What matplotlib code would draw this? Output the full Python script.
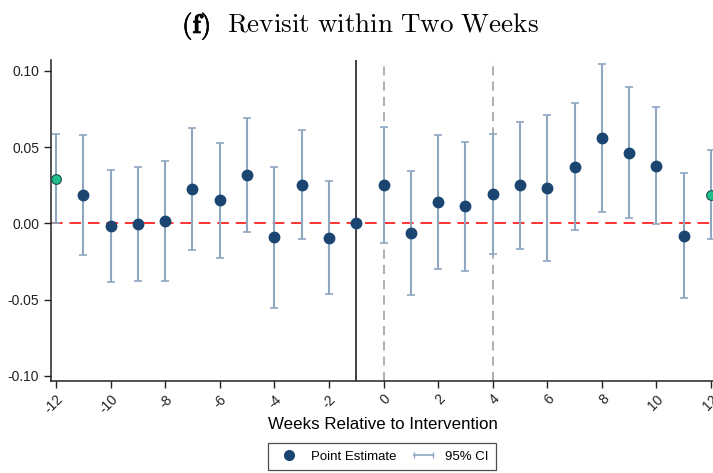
import numpy as np
import matplotlib
matplotlib.use("Agg")
import matplotlib.pyplot as plt
import matplotlib.patheffects as pe
from matplotlib.lines import Line2D
from matplotlib.legend_handler import HandlerLine2D

plt.rcParams["font.family"] = ["Liberation Sans", "DejaVu Sans"]
plt.rcParams["axes.unicode_minus"] = False
plt.rcParams["mathtext.fontset"] = "cm"

weeks = list(range(-12, 13))
estimate = [0.0292, 0.0184, -0.0015, -0.0002, 0.0016, 0.0224, 0.0151, 0.0316,
            -0.0090, 0.0255, -0.0092, 0.0, 0.0255, -0.0061, 0.0143, 0.0112,
            0.0191, 0.0250, 0.0235, 0.0373, 0.0559, 0.0463, 0.0378, -0.0079, 0.0187]
ci_upper = [0.0584, 0.0579, 0.0351, 0.0371, 0.0408, 0.0623, 0.0526, 0.0691,
            0.0373, 0.0612, 0.0276, 0.0, 0.0634, 0.0347, 0.0579, 0.0535,
            0.0584, 0.0667, 0.0713, 0.0790, 0.1044, 0.0895, 0.0763, 0.0329, 0.0483]
ci_lower = [0.0000, -0.0208, -0.0381, -0.0377, -0.0375, -0.0175, -0.0226, -0.0055,
            -0.0553, -0.0103, -0.0463, 0.0, -0.0127, -0.0469, -0.0296, -0.0311,
            -0.0197, -0.0166, -0.0243, -0.0044, 0.0072, 0.0033, -0.0004, -0.0489, -0.0103]
highlight_weeks = [-12, 12]
x_ticks = list(range(-12, 13, 2))
y_ticks = [-0.10, -0.05, 0.00, 0.05, 0.10]

navy = "#1a4570"
ci_col = "#8fa8c2"
green = "#1fbf8a"

fig = plt.figure(figsize=(7.13, 4.73), dpi=100)
ax = fig.add_axes([51 / 713, 92 / 473, 662 / 713, 321 / 473])

x = np.array(weeks)
est = np.array(estimate)
lo = np.array(ci_lower)
hi = np.array(ci_upper)
has_ci = (hi - lo) > 0

ax.axhline(0, color="#ff3333", lw=1.4, ls=(0, (6, 3.5)), zorder=2)
ax.axvline(-1, color="#333333", lw=1.3, zorder=1)
for v in [0, 4]:
    ax.axvline(v, color="#999999", lw=1.1, ls=(0, (6, 4)), zorder=1)

ax.errorbar(x[has_ci], est[has_ci],
            yerr=[est[has_ci] - lo[has_ci], hi[has_ci] - est[has_ci]],
            fmt="none", ecolor=ci_col, elinewidth=1.5, capsize=3, capthick=1.2, zorder=3)

is_hl = np.isin(x, highlight_weeks)
ax.plot(x[~is_hl], est[~is_hl], "o", color=navy, ms=7.5, mec=navy, zorder=4)
ax.plot(x[is_hl], est[is_hl], "o", color=green, ms=7, mec="#1d4f4a", mew=0.8,
        zorder=4, clip_on=False)

ax.set_xlim(-12.18, 12.07)
ax.set_ylim(-0.1033, 0.1072)
ax.set_xticks(x_ticks)
ax.set_xticklabels([str(t) for t in x_ticks], rotation=45, ha="right", va="top",
                   rotation_mode="anchor")
ax.set_yticks(y_ticks)
ax.set_yticklabels(["%.2f" % t for t in y_ticks])
ax.tick_params(labelsize=10, length=5, width=1, colors="#222222")
ax.tick_params(axis="x", pad=3)
for s in ["top", "right"]:
    ax.spines[s].set_visible(False)
for s in ["left", "bottom"]:
    ax.spines[s].set_linewidth(1.1)
    ax.spines[s].set_color("#222222")

ax.set_xlabel("Weeks Relative to Intervention", fontsize=12.2, va="center")
ax.xaxis.set_label_coords(0.5015, -0.134)

# title in two pieces so the "(f)" can be fully bold
title_y = 1 - 22 / 473
fig.text(182 / 713, title_y, r"$\mathbf{(f)}$", ha="left", va="center_baseline",
         fontsize=19.5,
         path_effects=[pe.Stroke(linewidth=0.45, foreground="black"), pe.Normal()])
fig.text(227 / 713, title_y, r"$\mathrm{Revisit\ within\ Two\ Weeks}$", ha="left",
         va="center_baseline", fontsize=19.5)

h_pt = Line2D([], [], ls="none", marker="o", color=navy, ms=7)
h_ci = Line2D([0, 1], [0, 0], color=ci_col, lw=1.2, marker="|", ms=5, mew=1)
leg = fig.legend([h_pt, h_ci], ["Point Estimate", "95% CI"], loc="center",
                 bbox_to_anchor=(382 / 713, 16.5 / 473), ncol=2, fontsize=9.5,
                 frameon=True, fancybox=False, edgecolor="#222222", columnspacing=1.0,
                 handler_map={h_ci: HandlerLine2D(numpoints=2)},
                 handlelength=2.1, handletextpad=0.6, borderpad=0.55)
leg.get_frame().set_linewidth(0.9)

fig.savefig("out.png", dpi=100)
